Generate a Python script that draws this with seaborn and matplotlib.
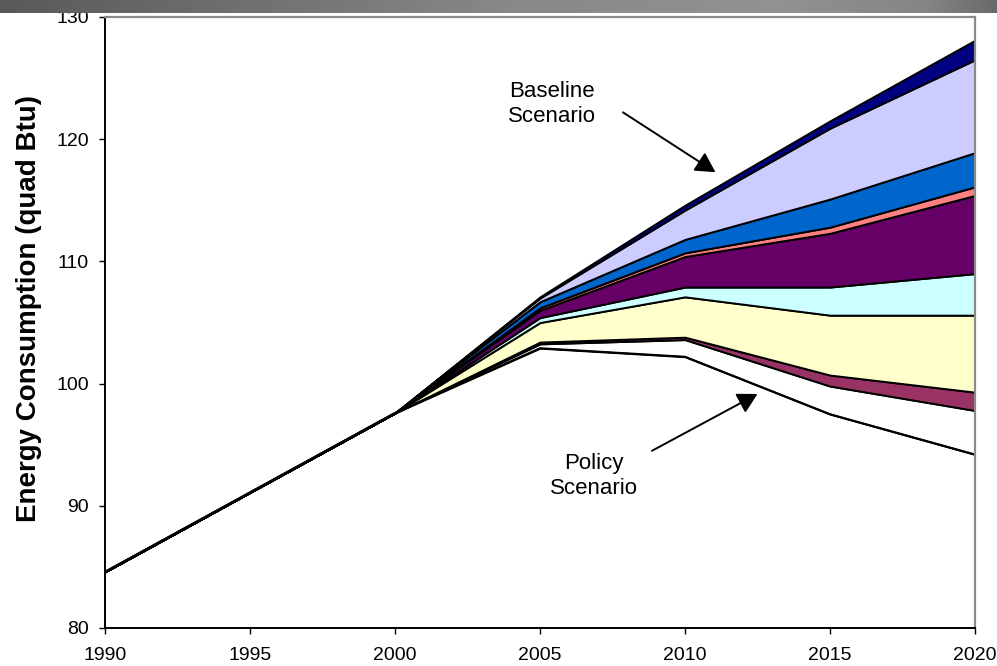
import numpy as np
import pandas as pd
import matplotlib
matplotlib.use("Agg")
import matplotlib.pyplot as plt
from matplotlib.patches import FancyArrowPatch
import seaborn as sns

# Years on the horizontal axis
years = [1990, 1995, 2000, 2005, 2010, 2015, 2020]

# Policy scenario consumption (bottom boundary, quad Btu)
policy = [84.6, 91.1, 97.6, 102.9, 102.2, 97.5, 94.2]

# Wedges stacked on the policy case, bottom to top (quad Btu)
gap_white = [0, 0, 0, 0.35, 1.4, 2.3, 3.6]
maroon = [0, 0, 0, 0.15, 0.2, 0.9, 1.5]
yellow = [0, 0, 0, 1.6, 3.3, 4.9, 6.3]
cyan = [0, 0, 0, 0.4, 0.8, 2.3, 3.4]
purple = [0, 0, 0, 0.6, 2.5, 4.4, 6.4]
pink = [0, 0, 0, 0.2, 0.3, 0.5, 0.7]
blue = [0, 0, 0, 0.5, 1.1, 2.3, 2.8]
lavender = [0, 0, 0, 0.3, 2.4, 5.8, 7.6]
navy = [0, 0, 0, 0.1, 0.4, 0.6, 1.6]

layer_colors = ["#FFFFFF", "#FFFFFF", "#993366", "#FFFFCC", "#CCFFFF",
                "#660066", "#FF8080", "#0066CC", "#CCCCFF", "#000080"]

y_ticks = [80, 90, 100, 110, 120, 130]
x_ticks = years

sns.set_theme(style="white")
plt.rcParams["font.family"] = ["Liberation Sans", "DejaVu Sans"]

df = pd.DataFrame({
    "year": years, "policy": policy, "gap": gap_white, "maroon": maroon,
    "yellow": yellow, "cyan": cyan, "purple": purple, "pink": pink,
    "blue": blue, "lavender": lavender, "navy": navy,
})

fig = plt.figure(figsize=(9.97, 6.66), dpi=100)
ax = fig.add_axes([105 / 997, 1 - 628 / 666, 870 / 997, 611 / 666])

layers = [df[c] for c in ["policy", "gap", "maroon", "yellow", "cyan",
                          "purple", "pink", "blue", "lavender", "navy"]]
ax.stackplot(df["year"], *layers, colors=layer_colors,
             edgecolor="black", linewidth=1.4)

# Policy scenario outline
sns.lineplot(data=df, x="year", y="policy", color="black", lw=1.4, ax=ax,
             legend=False)

ax.set_xlim(1990, 2020)
ax.set_ylim(80, 130)
ax.set_xticks(x_ticks)
ax.set_yticks(y_ticks)
ax.set_xlabel("")
ax.set_ylabel("")
ax.tick_params(axis="both", which="both", direction="out", length=4.5,
               width=1.0, color="black", labelsize=14, labelcolor="black")
ax.tick_params(axis="x", pad=9, bottom=True)
ax.tick_params(axis="y", pad=7, left=True)

for side in ["left", "bottom"]:
    ax.spines[side].set_color("black")
    ax.spines[side].set_linewidth(1.4)
for side in ["top", "right"]:
    ax.spines[side].set_color("#8a8a8a")
    ax.spines[side].set_linewidth(1.6)
ax.set_facecolor("white")

fig.text(29 / 997, 1 - 308 / 666, "Energy Consumption (quad Btu)",
         rotation=90, ha="center", va="center", fontsize=20,
         fontweight="bold", color="black")

# Scenario callouts
ax.text(2005.4, 122.9, "Baseline\nScenario", ha="center", va="center",
        fontsize=16, linespacing=1.25, color="black")
ax.text(2006.85, 92.4, "Policy\nScenario", ha="center", va="center",
        fontsize=16, linespacing=1.25, color="black")

arrow_style = "-|>,head_length=0.6,head_width=0.33"
ax.add_patch(FancyArrowPatch((2007.86, 122.2), (2011.05, 117.3),
                             arrowstyle=arrow_style, mutation_scale=20,
                             color="black", lw=1.4, shrinkA=0, shrinkB=0))
ax.add_patch(FancyArrowPatch((2008.86, 94.5), (2012.5, 99.15),
                             arrowstyle=arrow_style, mutation_scale=20,
                             color="black", lw=1.4, shrinkA=0, shrinkB=0))

# Gray title band across the top
band = fig.add_axes([0, 1 - 13 / 666, 1, 13 / 666])
pos = np.linspace(0, 1, 600)
shade = np.interp(pos, [0, 0.5, 0.78, 0.93, 1.0], [0.35, 0.53, 0.57, 0.52, 0.41])
band.imshow(np.tile(shade, (2, 1)), cmap="gray", vmin=0, vmax=1,
            aspect="auto", extent=[0, 1, 0, 1])
band.set_axis_off()

fig.savefig("out.png", dpi=100, facecolor="white")
